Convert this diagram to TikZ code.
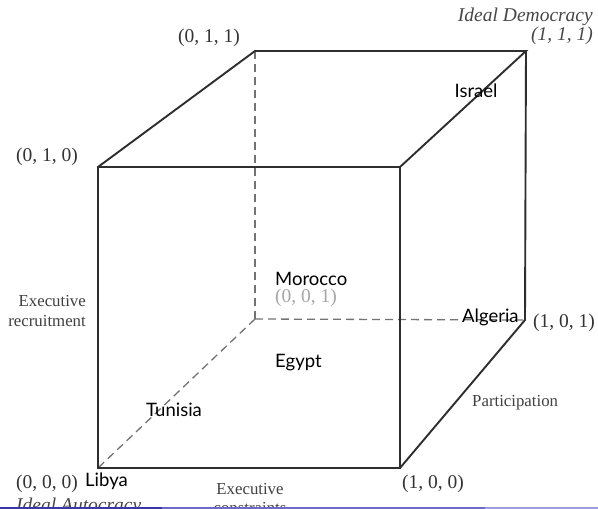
\documentclass[tikz,border=0pt]{standalone}
\usepackage{fontspec}
\setmainfont{Liberation Serif}
\newfontfamily\cfont{Lato}
\definecolor{barA}{HTML}{3838A8}
\definecolor{barB}{HTML}{6C6CC8}
\definecolor{barC}{HTML}{9C9CDE}
\begin{document}
\begin{tikzpicture}[x=1pt,y=-1pt,
  edge/.style={line width=1.9pt, draw=black!82, line join=miter},
  hid/.style={line width=1.3pt, draw=black!55, dash pattern=on 8pt off 5pt},
  lab/.style={inner sep=0pt, text=black!80, font=\fontsize{19.5}{21}\selectfont},
  axl/.style={inner sep=0pt, text=black!75, font=\fontsize{16.8}{20}\selectfont},
  ital/.style={inner sep=0pt, text=black!72, font=\itshape\fontsize{19.5}{19}\selectfont},
  ctry/.style={inner sep=0pt, text=black, font=\cfont\fontsize{18.5}{20}\selectfont}]
\useasboundingbox (0,0) rectangle (598,509);
\clip (0,0) rectangle (598,509);
\fill[white] (0,0) rectangle (598,509);
% cube vertices
\coordinate (A) at (98,468);
\coordinate (B) at (400,468);
\coordinate (C) at (400,167);
\coordinate (D) at (98,167);
\coordinate (E) at (255,51);
\coordinate (F) at (526,51);
\coordinate (G) at (525,320);
\coordinate (H) at (255,319);
% hidden edges
\draw[hid] (E) -- (H);
\draw[hid] (H) -- (G);
\draw[hid] (H) -- (A);
% visible edges
\draw[edge] (A) -- (B) -- (C) -- (D) -- cycle;
\draw[edge] (D) -- (E) -- (F) -- (C);
\draw[edge] (F) -- (G) -- (B);
% vertex labels
\node[lab] (l011) at (209,38) {(0, 1, 1)};
\node[ital, anchor=east] (lid) at (593,17) {Ideal Democracy};
\node[ital, anchor=east] (l111) at (593,36) {(1, 1, 1)};
\node[lab, anchor=east] (l010) at (78,157) {(0, 1, 0)};
\node[lab, anchor=west, text=black!35] (l001) at (275,298) {(0, 0, 1)};
\node[lab, anchor=west] (l101) at (533,323) {(1, 0, 1)};
\node[lab, anchor=east] (l000) at (78,484) {(0, 0, 0)};
\node[lab, anchor=west] (l100) at (402,484) {(1, 0, 0)};
\node[ital, anchor=west] (lia) at (16,506.5) {Ideal Autocracy};
% axis labels
\node[axl, align=right, anchor=east] (lrec) at (86,311) {Executive\\recruitment};
\node[axl, anchor=west] (lpar) at (472,403) {Participation};
\node[axl] (lcon1) at (250,489) {Executive};
\node[axl] (lcon2) at (250,508.5) {constraints};
% countries
\node[ctry] (isr) at (476,91) {Israel};
\node[ctry, anchor=west] (mor) at (275,279) {Morocco};
\node[ctry, anchor=west] (alg) at (462,317) {Algeria};
\node[ctry, anchor=west] (egy) at (275,363) {Egypt};
\node[ctry, anchor=west] (tun) at (146,410) {Tunisia};
\node[ctry, anchor=west] (lib) at (85,481) {Libya};
% footer bar
\fill[barA] (0,506.7) rectangle (162,509);
\fill[barB] (162,506.7) rectangle (485,509);
\fill[barC] (485,506.7) rectangle (598,509);
\end{tikzpicture}
\end{document}
